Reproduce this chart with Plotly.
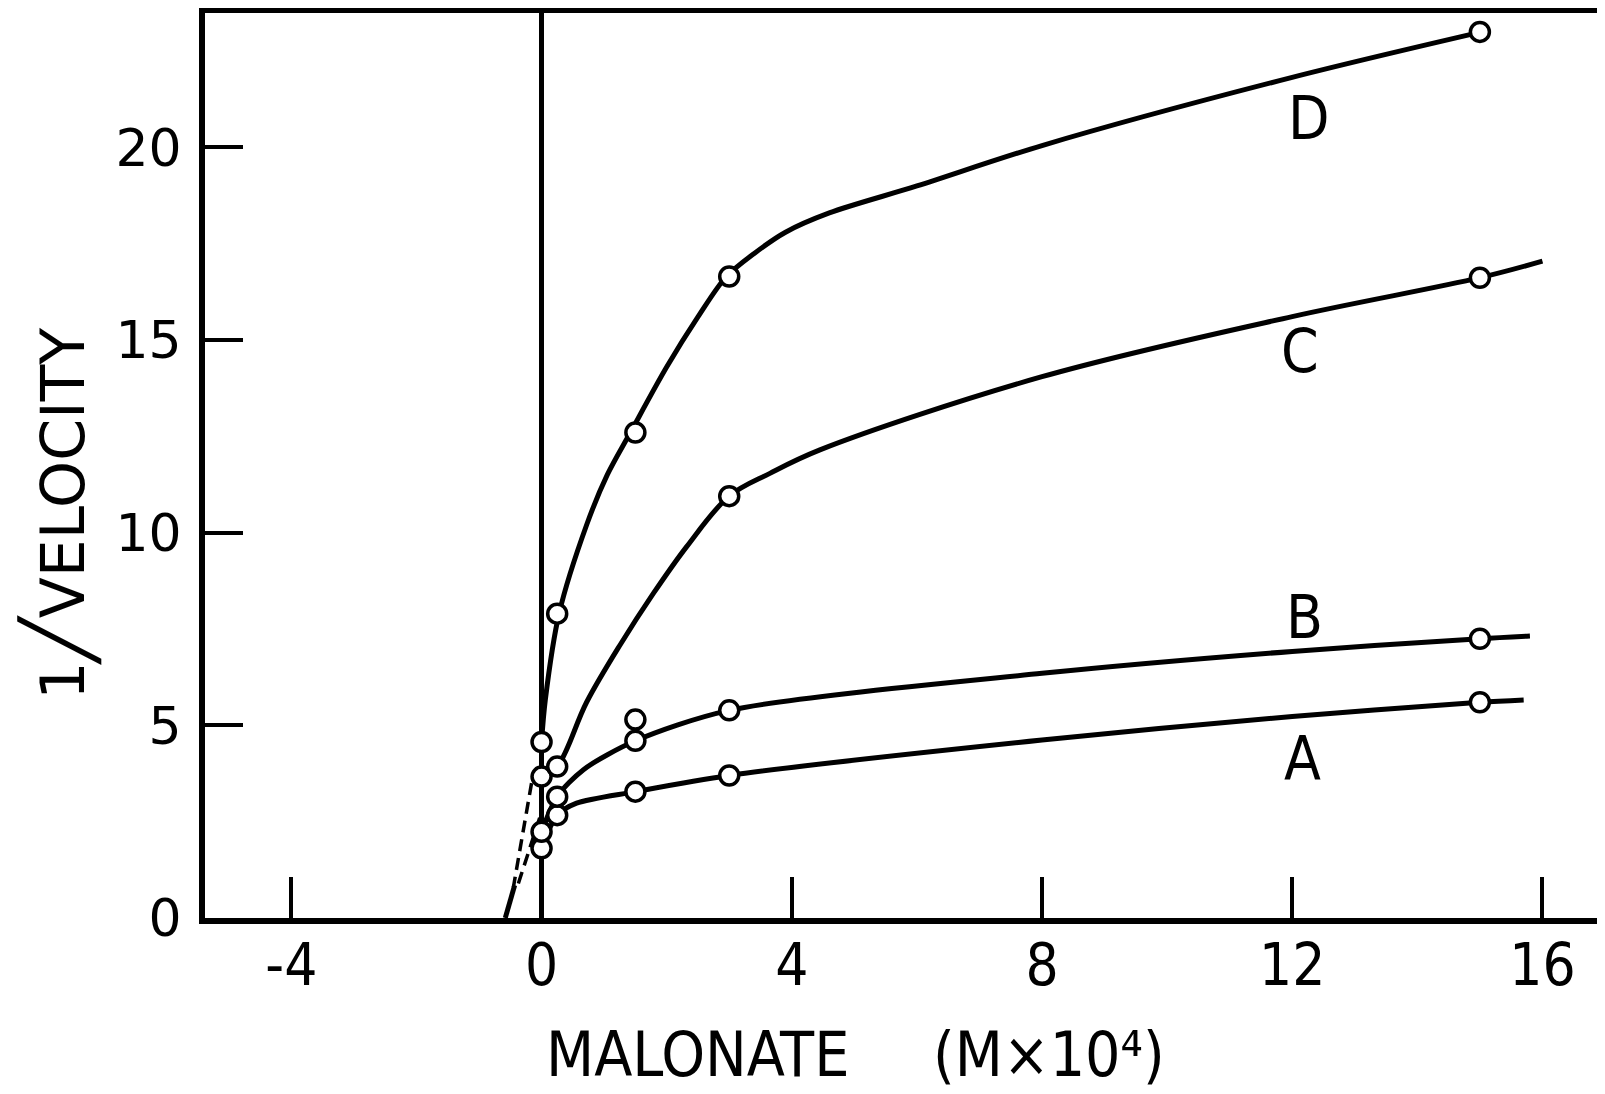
import plotly.graph_objects as go

# ---- measured points (open circles) ----
A_x = [0, 0.25, 1.5, 3, 15]
A_y = [1.81, 2.67, 3.28, 3.70, 5.60]
B_x = [0, 0.25, 1.5, 1.5, 3, 15]
B_y = [2.24, 3.15, 4.60, 5.15, 5.39, 7.25]
C_x = [0, 0.25, 3, 15]
C_y = [3.67, 3.93, 10.95, 16.62]
D_x = [0, 0.25, 1.5, 3, 15]
D_y = [4.57, 7.90, 12.60, 16.65, 23.0]

# ---- hand-drawn curves ----
curveA_x = [0, 0.25, 0.56, 1.5, 3, 8, 12, 15, 15.7]
curveA_y = [1.81, 2.67, 2.98, 3.28, 3.70, 4.62, 5.23, 5.60, 5.66]
curveB_x = [0, 0.25, 0.67, 1.5, 3, 8, 12, 15, 15.8]
curveB_y = [2.24, 3.15, 3.85, 4.60, 5.39, 6.35, 6.92, 7.25, 7.32]
curveC_x = [0, 0.25, 0.72, 1.26, 1.79, 2.32, 3, 3.65, 4.45, 8, 12, 15, 16.0]
curveC_y = [3.67, 3.93, 5.60, 7.10, 8.43, 9.64, 10.95, 11.54, 12.15, 14.05, 15.61, 16.62, 17.05]
curveD_x = [0, 0.06, 0.28, 0.72, 1.05, 1.42, 2.0, 2.5, 2.95, 3.4, 3.9, 4.6, 6.0, 8, 12, 15.03]
curveD_y = [4.57, 5.66, 7.90, 10.2, 11.5, 12.6, 14.3, 15.6, 16.64, 17.25, 17.8, 18.3, 19.0, 20.05, 21.82, 23.0]

# ---- dashed extrapolations to the x intercept ----
dash1_x = [-0.16, -0.45]
dash1_y = [3.50, 0.80]
dash2_x = [-0.03, -0.40]
dash2_y = [2.60, 0.75]
wedge_x = [-0.43, -0.58]
wedge_y = [0.85, 0.0]

# ---- curve labels ----
label_text = ["D", "C", "B", "A"]
label_x = [12.27, 12.13, 12.20, 12.17]
label_y = [20.76, 14.73, 7.80, 4.15]

x_ticks = [-4, 0, 4, 8, 12, 16]
x_ticktext = ["-4", "0", "4", "8", "12", "16"]
y_ticks = [0, 5, 10, 15, 20]
y_ticktext = ["0", "5", "10", "15", "20"]

NARROW = "DejaVu Sans Condensed, Liberation Sans Narrow, Liberation Sans"

fig = go.Figure()

for cx, cy, sm in [(curveA_x, curveA_y, 0.8), (curveB_x, curveB_y, 0.8),
                   (curveC_x, curveC_y, 1.0), (curveD_x, curveD_y, 0.9)]:
    fig.add_trace(go.Scatter(x=cx, y=cy, mode="lines",
                             line=dict(color="black", width=5, shape="spline", smoothing=sm),
                             hoverinfo="skip", showlegend=False))

for dx, dy in [(dash1_x, dash1_y), (dash2_x, dash2_y)]:
    fig.add_trace(go.Scatter(x=dx, y=dy, mode="lines",
                             line=dict(color="black", width=3.5, dash="12px,7px"),
                             hoverinfo="skip", showlegend=False))
fig.add_trace(go.Scatter(x=wedge_x, y=wedge_y, mode="lines",
                         line=dict(color="black", width=5),
                         hoverinfo="skip", showlegend=False))

for px, py in [(A_x, A_y), (B_x, B_y), (C_x, C_y), (D_x, D_y)]:
    fig.add_trace(go.Scatter(x=px, y=py, mode="markers",
                             marker=dict(size=19, color="white",
                                         line=dict(color="black", width=3.5)),
                             cliponaxis=False, showlegend=False))

for t, lx, ly in zip(label_text, label_x, label_y):
    fig.add_annotation(x=lx, y=ly, xref="x", yref="y", text=t, showarrow=False,
                       font=dict(family=NARROW, size=60, color="black"),
                       xanchor="center", yanchor="middle")

# axis titles
fig.add_annotation(x=2.50, y=-0.193, xref="x", yref="paper", text="MALONATE",
                   showarrow=False, xanchor="center", yanchor="bottom",
                   font=dict(family=NARROW, size=62, color="black"))
fig.add_annotation(x=8.11, y=-0.193, xref="x", yref="paper", text="(M×10\u2074)",
                   showarrow=False, xanchor="center", yanchor="bottom",
                   font=dict(family=NARROW, size=62, color="black"))
fig.add_annotation(x=-0.104, y=0.447, xref="paper", yref="paper",
                   text="1<span style='font-size:72px'>\u2571</span>VELOCITY",
                   textangle=-90, showarrow=False, xanchor="center", yanchor="middle",
                   font=dict(family="DejaVu Sans", size=60, color="black"))

fig.update_xaxes(range=[-5.38, 17.0], tickvals=x_ticks, ticktext=x_ticktext,
                 ticks="inside", ticklen=41, tickwidth=4, tickcolor="black",
                 showline=True, linewidth=6, linecolor="black", mirror=True,
                 zeroline=True, zerolinewidth=5, zerolinecolor="black",
                 showgrid=False, automargin=False, ticklabelstandoff=-9,
                 tickfont=dict(family=NARROW, size=58, color="black"))
fig.update_yaxes(range=[0, 23.49], tickvals=y_ticks, ticktext=y_ticktext,
                 ticks="inside", ticklen=38, tickwidth=4, tickcolor="black",
                 showline=True, linewidth=6, linecolor="black", mirror=False,
                 zeroline=False, showgrid=False, automargin=False, ticklabelstandoff=7,
                 tickfont=dict(family="DejaVu Sans", size=52, color="black"))

# page body has an 8px margin, so the figure is sized to fit the 1605x1094 window
fig.update_layout(width=1597, height=1086,
                  margin=dict(l=197, r=0, t=5, b=176),
                  plot_bgcolor="white", paper_bgcolor="white",
                  showlegend=False)

fig.write_html("out.html")
